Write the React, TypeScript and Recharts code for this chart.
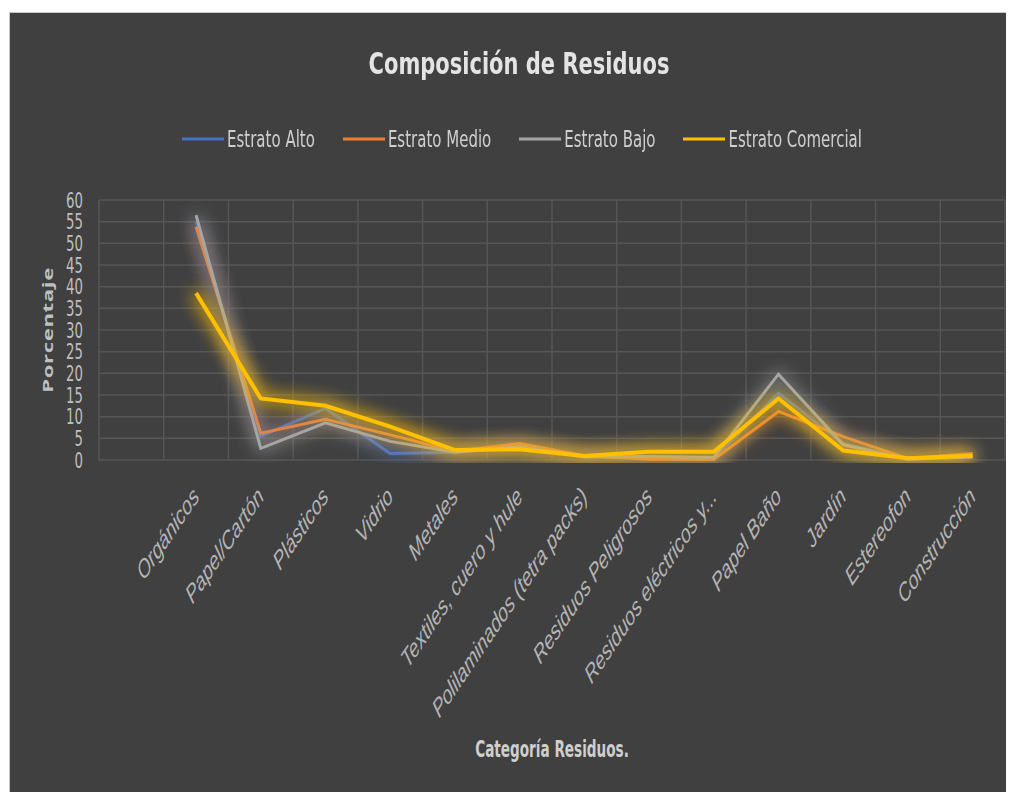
import React from "react";
import { LineChart, Line, XAxis, YAxis, CartesianGrid, Legend } from "recharts";

const categories = [
  "",
  "Orgánicos",
  "Papel/Cartón",
  "Plásticos",
  "Vidrio",
  "Metales",
  "Textiles, cuero y hule",
  "Polilaminados (tetra packs)",
  "Residuos Peligrosos",
  "Residuos eléctricos y...",
  "Papel Baño",
  "Jardín",
  "Estereofon",
  "Construcción",
];

const estratoAlto = [null, 55, 5.5, 11.9, 1.5, 1.8, 2.8, 0.8, 0.5, 0.3, 15.4, 3.8, 0.3, 0.7];
const estratoMedio = [null, 53.8, 6.2, 9.4, 5.8, 2.0, 3.8, 1.0, 0.2, 0.1, 11.2, 5.4, 0.3, 1.5];
const estratoBajo = [null, 56.5, 2.7, 8.6, 4.3, 1.8, 3.1, 0.7, 0.8, 0.6, 19.8, 3.5, 0.2, 0.7];
const estratoComercial = [null, 38.5, 14.2, 12.5, 7.7, 2.3, 2.5, 0.9, 1.9, 1.9, 14.2, 2.2, 0.4, 1.0];

const yTicks = [0, 5, 10, 15, 20, 25, 30, 35, 40, 45, 50, 55, 60];

const series = [
  { key: "alto", name: "Estrato Alto", color: "#4472C4", values: estratoAlto, width: 3, glow: 0.7 },
  { key: "medio", name: "Estrato Medio", color: "#ED7D31", values: estratoMedio, width: 3, glow: 0.55 },
  { key: "bajo", name: "Estrato Bajo", color: "#A5A5A5", values: estratoBajo, width: 3, glow: 0.8 },
  { key: "comercial", name: "Estrato Comercial", color: "#FFC000", values: estratoComercial, width: 4, glow: 1.0 },
];

const data = categories.map((c, i) => {
  const row: any = { cat: c };
  series.forEach((s) => {
    row[s.key] = s.values[i];
  });
  return row;
});

const FONT = "'DejaVu Sans', sans-serif";
const STRETCH = 1.48;

const XTick = (props: any) => {
  const { x, y, payload } = props;
  return (
    <g transform={`translate(${x + 4},${y + 30}) scale(1,${STRETCH}) rotate(-45)`}>
      <text
        x={0}
        y={0}
        textAnchor="end"
        fill="#b4b4b4"
        fontSize={17.5}
        fontStyle="italic"
        fontFamily="'Liberation Sans', sans-serif"
      >
        {payload.value}
      </text>
    </g>
  );
};

const YTick = (props: any) => {
  const { x, y, payload } = props;
  return (
    <g transform={`translate(${x},${y}) scale(1,1.54)`}>
      <text x={0} y={4.9} textAnchor="end" fill="#bfbfbf" fontSize={13.3} fontFamily={FONT}>
        {payload.value}
      </text>
    </g>
  );
};

const LegendContent = () => (
  <div
    style={{
      display: "flex",
      justifyContent: "center",
      alignItems: "center",
      paddingLeft: 20,
      height: 24,
      transform: "scaleY(1.52)",
      transformOrigin: "50% 12px",
    }}
  >
    {series.map((s, i) => (
      <div
        key={s.key}
        style={{ display: "flex", alignItems: "center", marginLeft: i === 0 ? 0 : 28 }}
      >
        <div style={{ width: 42, height: 2.7, background: s.color, marginRight: 3 }} />
        <span style={{ color: "#cfcfcf", fontSize: 15, lineHeight: "24px", fontFamily: FONT }}>
          {s.name}
        </span>
      </div>
    ))}
  </div>
);

const W = 1004;
const H = 779;

export default function App() {
  return (
    <div style={{ width: 1006, height: 784, background: "#fff", position: "relative" }}>
      <style>{`
        .glow-alto .recharts-line-curve { filter: url(#glow-alto); }
        .glow-medio .recharts-line-curve { filter: url(#glow-medio); }
        .glow-bajo .recharts-line-curve { filter: url(#glow-bajo); }
        .glow-comercial .recharts-line-curve { filter: url(#glow-comercial); }
      `}</style>
      <div
        style={{
          position: "absolute",
          left: 2,
          top: 5,
          width: W,
          height: H,
          background: "#404040",
          boxShadow: "0 0 0 1px #c8c8c8",
        }}
      >
        <div
          style={{
            position: "absolute",
            left: 0,
            top: 42,
            width: W,
            textAlign: "center",
            color: "#e4e4e4",
            fontSize: 21,
            lineHeight: "24px",
            fontWeight: "bold",
            fontFamily: FONT,
            paddingLeft: 14,
            boxSizing: "border-box",
            transform: "scaleY(1.42)",
            transformOrigin: "50% 19px",
          }}
        >
          Composición de Residuos
        </div>
        <svg width={0} height={0} style={{ position: "absolute" }}>
          <defs>
            {series.map((s) => (
              <filter
                key={s.key}
                id={`glow-${s.key}`}
                filterUnits="userSpaceOnUse"
                x={0}
                y={0}
                width={W}
                height={450}
              >
                <feGaussianBlur in="SourceGraphic" stdDeviation={9} result="blur" />
                <feComponentTransfer in="blur" result="soft">
                  <feFuncA type="linear" slope={s.glow * 2.3} />
                </feComponentTransfer>
                <feMerge>
                  <feMergeNode in="soft" />
                  <feMergeNode in="SourceGraphic" />
                </feMerge>
              </filter>
            ))}
          </defs>
        </svg>
        <LineChart width={W} height={H} data={data} margin={{ top: 187, right: 9, left: 0, bottom: 0 }}>
          <CartesianGrid
            stroke="#565656"
            strokeWidth={1.5}
            verticalCoordinatesGenerator={({ offset }: any) =>
              categories
                .map((_, i) => offset.left + (i * offset.width) / categories.length)
                .concat([offset.left + offset.width])
            }
          />
          <XAxis
            dataKey="cat"
            scale="band"
            interval={0}
            height={332}
            tick={<XTick />}
            tickLine={false}
            axisLine={false}
            label={({ viewBox }: any) => {
              const cx = viewBox.x + viewBox.width / 2;
              const by = viewBox.y + viewBox.height - 35;
              return (
                <g transform={`translate(${cx},${by}) scale(1,1.68)`}>
                  <text
                    x={0}
                    y={0}
                    textAnchor="middle"
                    fill="#cfcfcf"
                    fontSize={13.6}
                    fontWeight="bold"
                    fontFamily={FONT}
                  >
                    Categoría Residuos.
                  </text>
                </g>
              );
            }}
          />
          <YAxis
            domain={[0, 60]}
            ticks={yTicks}
            interval={0}
            width={89}
            tickLine={false}
            axisLine={false}
            tickMargin={10}
            tick={<YTick />}
            label={({ viewBox }: any) => {
              const cx = viewBox.x + 43;
              const cy = viewBox.y + viewBox.height / 2;
              return (
                <g transform={`translate(${cx},${cy}) scale(1,${STRETCH}) rotate(-90)`}>
                  <text
                    x={0}
                    y={0}
                    textAnchor="middle"
                    fill="#bfbfbf"
                    fontSize={15}
                    fontWeight="bold"
                    letterSpacing={0.4}
                    fontFamily="'Open Sans', sans-serif"
                  >
                    Porcentaje
                  </text>
                </g>
              );
            }}
          />
          <Legend
            layout="horizontal"
            verticalAlign="middle"
            align="center"
            wrapperStyle={{ top: 114, left: 0, width: W }}
            content={<LegendContent />}
          />
          {series.map((s) => (
            <Line
              key={s.key}
              className={`glow-${s.key}`}
              type="linear"
              dataKey={s.key}
              name={s.name}
              stroke={s.color}
              strokeWidth={s.width}
              dot={false}
              activeDot={false}
              isAnimationActive={false}
            />
          ))}
        </LineChart>
      </div>
    </div>
  );
}
